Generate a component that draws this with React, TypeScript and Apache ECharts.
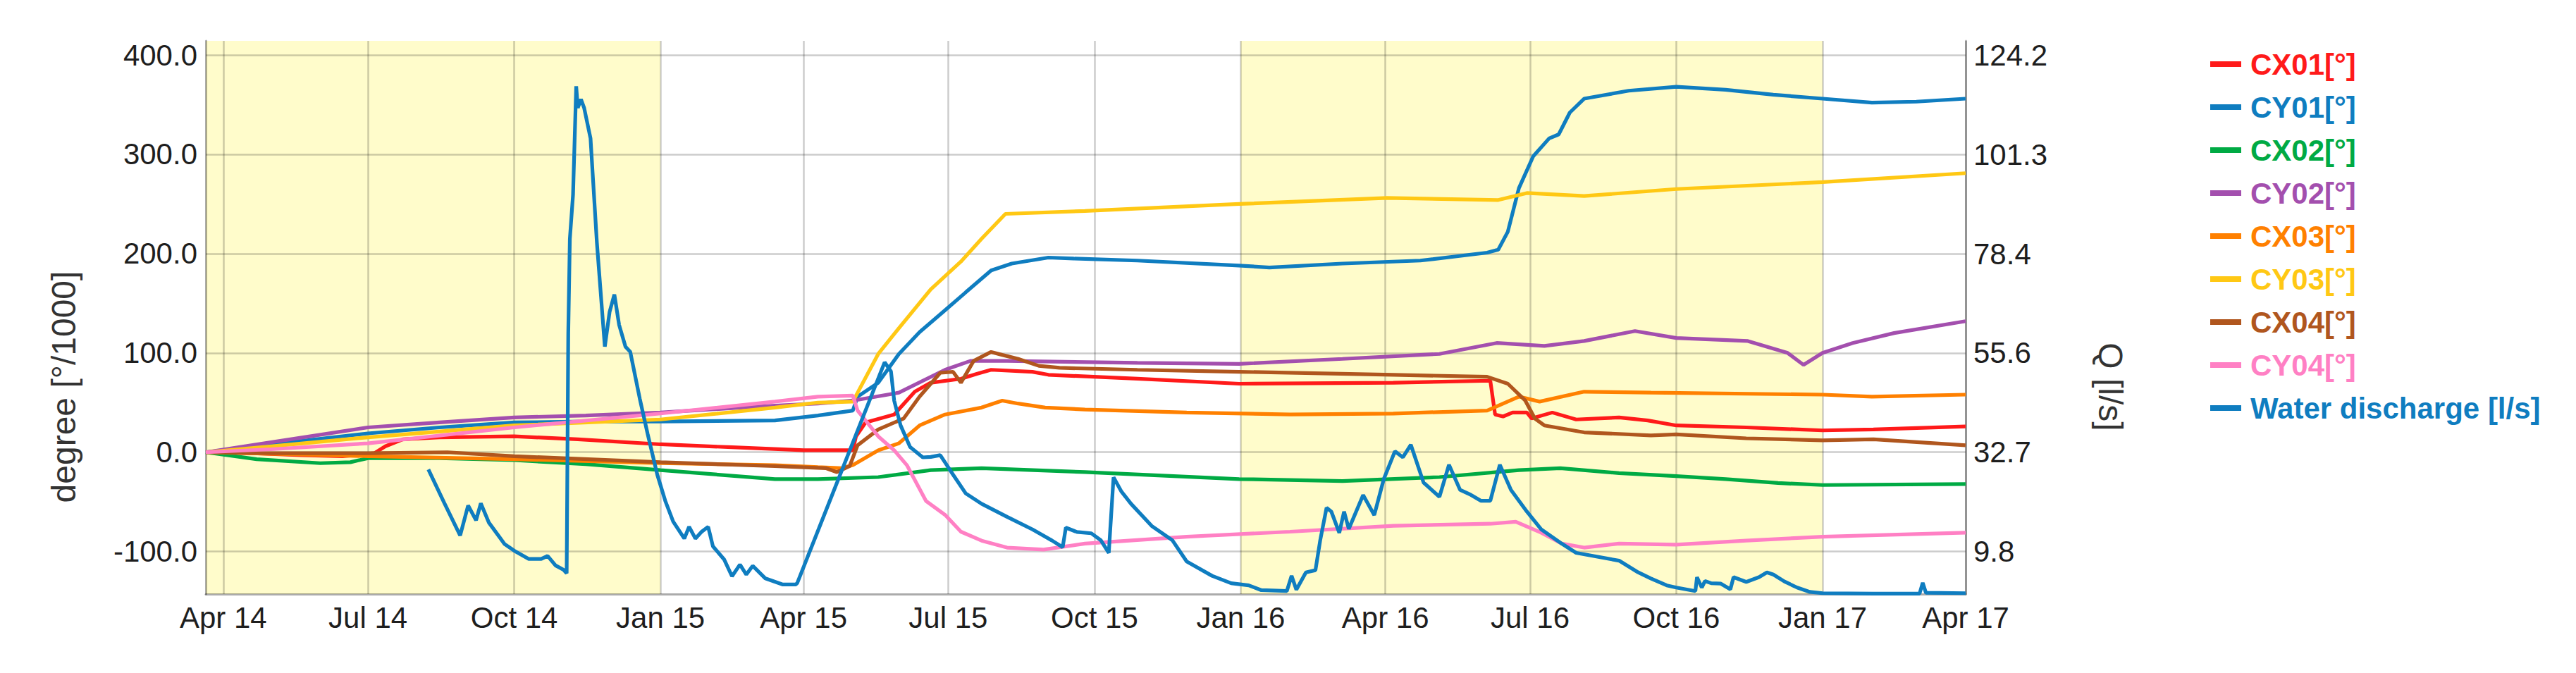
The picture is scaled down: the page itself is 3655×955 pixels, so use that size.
import React, { useEffect, useRef } from 'react';
import * as echarts from 'echarts';

const FONT = '"Liberation Sans", Arial, sans-serif';

const X_MIN = '2014-03-21';
const X_MAX = '2017-04-01';
const X_TICKS = [
  '2014-04-01', '2014-07-01', '2014-10-01', '2015-01-01', '2015-04-01', '2015-07-01', '2015-10-01',
  '2016-01-01', '2016-04-01', '2016-07-01', '2016-10-01', '2017-01-01', '2017-04-01',
];
const MONTHS = ['Jan', 'Feb', 'Mar', 'Apr', 'May', 'Jun', 'Jul', 'Aug', 'Sep', 'Oct', 'Nov', 'Dec'];
const LEFT_TICKS = [-100, 0, 100, 200, 300, 400];
const RIGHT_TICKS = [9.8, 32.7, 55.6, 78.4, 101.3, 124.2];
const BANDS = [
  ['2014-03-21', '2015-01-01'],
  ['2016-01-01', '2017-01-01'],
];

const CX01 = [
  ['2014-03-21', 0], ['2014-04-20', -1], ['2014-05-20', -3], ['2014-06-15', -4], ['2014-07-05', -1],
  ['2014-07-12', 6], ['2014-07-23', 13], ['2014-08-15', 15], ['2014-10-01', 16], ['2014-11-10', 13],
  ['2015-01-01', 8], ['2015-02-15', 5], ['2015-04-01', 2], ['2015-05-02', 2], ['2015-05-04', 16],
  ['2015-05-10', 30], ['2015-05-28', 38], ['2015-06-10', 61], ['2015-06-20', 70], ['2015-07-09', 74],
  ['2015-07-19', 79], ['2015-07-28', 83], ['2015-08-23', 81], ['2015-09-02', 78], ['2015-10-28', 74],
  ['2015-12-31', 69], ['2016-04-06', 70], ['2016-06-06', 72], ['2016-06-09', 38], ['2016-06-14', 36],
  ['2016-06-20', 40], ['2016-06-29', 40], ['2016-07-02', 34], ['2016-07-15', 40], ['2016-07-30', 33],
  ['2016-08-26', 35], ['2016-09-13', 32], ['2016-10-01', 27], ['2016-11-14', 25], ['2017-01-01', 22],
  ['2017-02-02', 23], ['2017-04-01', 26],
];
const CY01 = [
  ['2014-03-21', 0], ['2014-05-01', 8], ['2014-07-01', 19], ['2014-08-15', 25], ['2014-10-01', 30],
  ['2014-11-15', 31], ['2015-01-01', 31], ['2015-03-14', 32], ['2015-04-10', 37], ['2015-05-02', 42],
  ['2015-05-05', 56], ['2015-05-18', 70], ['2015-05-31', 99], ['2015-06-13', 121], ['2015-06-29', 143],
  ['2015-07-12', 161], ['2015-07-28', 183], ['2015-08-10', 190], ['2015-09-02', 196], ['2015-09-18', 195],
  ['2015-10-28', 193], ['2015-12-31', 188], ['2016-01-19', 186], ['2016-03-05', 190], ['2016-04-23', 193],
  ['2016-06-04', 201], ['2016-06-11', 204], ['2016-06-17', 222], ['2016-06-24', 266], ['2016-07-03', 298],
  ['2016-07-13', 316], ['2016-07-19', 320], ['2016-07-26', 342], ['2016-08-04', 356], ['2016-09-01', 364],
  ['2016-10-01', 368], ['2016-11-01', 365], ['2016-12-01', 360], ['2017-01-01', 356], ['2017-02-01', 352],
  ['2017-03-01', 353], ['2017-04-01', 356],
];
const CX02 = [
  ['2014-03-21', 0], ['2014-04-22', -7], ['2014-06-01', -11], ['2014-06-20', -10], ['2014-07-01', -6],
  ['2014-08-15', -6], ['2014-10-01', -8], ['2014-11-15', -12], ['2015-01-01', -18], ['2015-03-14', -27],
  ['2015-04-10', -27], ['2015-05-18', -25], ['2015-06-20', -18], ['2015-07-22', -16], ['2015-09-25', -20],
  ['2015-12-31', -27], ['2016-03-05', -29], ['2016-05-05', -25], ['2016-06-24', -18], ['2016-07-20', -16],
  ['2016-08-26', -21], ['2016-10-01', -24], ['2016-11-01', -27], ['2016-12-04', -31], ['2017-01-01', -33],
  ['2017-04-01', -32],
];
const CY02 = [
  ['2014-03-21', 0], ['2014-05-01', 10], ['2014-07-01', 25], ['2014-08-15', 30], ['2014-10-01', 35],
  ['2014-11-15', 37], ['2015-01-01', 40], ['2015-03-14', 47], ['2015-04-10', 49], ['2015-05-02', 52],
  ['2015-05-31', 60], ['2015-06-29', 83], ['2015-07-15', 92], ['2015-08-07', 92], ['2015-10-28', 90],
  ['2015-12-31', 89], ['2016-03-05', 94], ['2016-05-05', 99], ['2016-06-10', 110], ['2016-07-10', 107],
  ['2016-08-04', 112], ['2016-09-05', 122], ['2016-10-01', 115], ['2016-11-15', 112], ['2016-12-10', 100],
  ['2016-12-20', 88], ['2017-01-01', 100], ['2017-01-20', 110], ['2017-02-15', 120], ['2017-04-01', 132],
];
const CX03 = [
  ['2014-03-21', 0], ['2014-05-15', -2], ['2014-07-01', -4], ['2014-10-01', -7], ['2015-01-01', -11],
  ['2015-03-14', -13], ['2015-04-10', -15], ['2015-04-25', -16], ['2015-05-02', -13], ['2015-05-18', 2],
  ['2015-05-31', 9], ['2015-06-13', 27], ['2015-06-29', 38], ['2015-07-22', 45], ['2015-08-04', 52],
  ['2015-08-14', 49], ['2015-08-31', 45], ['2015-09-25', 43], ['2015-11-28', 40], ['2016-02-01', 38],
  ['2016-04-06', 39], ['2016-06-04', 42], ['2016-06-24', 56], ['2016-07-07', 51], ['2016-08-04', 61],
  ['2016-09-15', 60], ['2017-01-01', 58], ['2017-02-01', 56], ['2017-04-01', 58],
];
const CY03 = [
  ['2014-03-21', 0], ['2014-05-01', 6], ['2014-07-01', 15], ['2014-10-01', 27], ['2015-01-01', 33],
  ['2015-03-14', 45], ['2015-04-10', 50], ['2015-05-02', 51], ['2015-05-18', 99], ['2015-05-31', 125],
  ['2015-06-20', 164], ['2015-07-09', 192], ['2015-07-22', 215], ['2015-08-06', 240], ['2015-09-25', 243],
  ['2015-12-31', 250], ['2016-04-02', 256], ['2016-06-11', 254], ['2016-06-29', 261], ['2016-08-04', 258],
  ['2016-10-01', 265], ['2017-01-01', 272], ['2017-04-01', 281],
];
const CX04 = [
  ['2014-03-21', 0], ['2014-05-01', -1], ['2014-07-01', -1], ['2014-08-20', 0], ['2014-10-01', -4],
  ['2015-01-01', -10], ['2015-03-14', -14], ['2015-04-15', -16], ['2015-04-22', -20], ['2015-04-30', -14],
  ['2015-05-05', 7], ['2015-05-18', 23], ['2015-06-03', 34], ['2015-06-13', 56], ['2015-06-26', 80],
  ['2015-07-04', 81], ['2015-07-09', 70], ['2015-07-17', 92], ['2015-07-28', 101], ['2015-08-04', 98],
  ['2015-08-14', 94], ['2015-08-27', 87], ['2015-09-09', 85], ['2015-10-28', 83], ['2015-12-31', 81],
  ['2016-04-06', 78], ['2016-06-04', 76], ['2016-06-17', 69], ['2016-06-28', 52], ['2016-07-04', 34],
  ['2016-07-10', 27], ['2016-08-04', 20], ['2016-09-15', 17], ['2016-10-01', 18], ['2016-11-14', 14],
  ['2017-01-01', 12], ['2017-02-02', 13], ['2017-04-01', 7],
];
const CY04 = [
  ['2014-03-21', 0], ['2014-05-01', 3], ['2014-07-01', 9], ['2014-10-01', 25], ['2015-01-01', 39],
  ['2015-03-14', 51], ['2015-04-10', 56], ['2015-05-02', 57], ['2015-05-05', 42], ['2015-05-18', 16],
  ['2015-05-28', 2], ['2015-06-05', -13], ['2015-06-17', -49], ['2015-06-29', -63], ['2015-07-09', -80],
  ['2015-07-22', -89], ['2015-08-07', -96], ['2015-08-30', -98], ['2015-09-25', -92], ['2015-11-28', -85],
  ['2016-02-01', -80], ['2016-04-06', -74], ['2016-06-06', -72], ['2016-06-22', -70], ['2016-07-08', -81],
  ['2016-07-21', -92], ['2016-08-04', -96], ['2016-08-26', -92], ['2016-10-01', -93], ['2016-11-14', -89],
  ['2017-01-01', -85], ['2017-04-01', -81],
];
const DISCHARGE = [
  ['2014-08-08', 28.7], ['2014-08-18', 21], ['2014-08-28', 13.5], ['2014-09-02', 20.4], ['2014-09-07', 17],
  ['2014-09-10', 20.9], ['2014-09-15', 16.5], ['2014-09-25', 11.5], ['2014-10-01', 10], ['2014-10-10', 8.1],
  ['2014-10-18', 8.1], ['2014-10-22', 8.8], ['2014-10-27', 6.6], ['2014-11-01', 5.6], ['2014-11-03', 4.8],
  ['2014-11-04', 60], ['2014-11-05', 81.8], ['2014-11-07', 92], ['2014-11-09', 117], ['2014-11-10', 112],
  ['2014-11-12', 114], ['2014-11-14', 112], ['2014-11-18', 105], ['2014-11-22', 81], ['2014-11-27', 57],
  ['2014-11-30', 65], ['2014-12-03', 69], ['2014-12-06', 62], ['2014-12-10', 57], ['2014-12-13', 55.8],
  ['2014-12-19', 45], ['2014-12-24', 36.8], ['2014-12-30', 27.5], ['2015-01-04', 21.5], ['2015-01-09', 16.7],
  ['2015-01-16', 12.8], ['2015-01-19', 15.5], ['2015-01-23', 12.8], ['2015-01-27', 14.4], ['2015-01-31', 15.5],
  ['2015-02-03', 11], ['2015-02-10', 8], ['2015-02-15', 4.1], ['2015-02-20', 6.8], ['2015-02-24', 4.5],
  ['2015-02-28', 6.5], ['2015-03-08', 3.6], ['2015-03-19', 2.2], ['2015-03-27', 2.2], ['2015-03-28', 2.5],
  ['2015-05-22', 53.4], ['2015-05-26', 51.3], ['2015-05-28', 44.6], ['2015-06-01', 38.9], ['2015-06-07', 33.9],
  ['2015-06-15', 31.5], ['2015-06-20', 31.6], ['2015-06-26', 32], ['2015-07-03', 28.1], ['2015-07-12', 23.2],
  ['2015-07-22', 20.8], ['2015-08-07', 17.8], ['2015-08-23', 14.9], ['2015-09-04', 12.4], ['2015-09-11', 10.8],
  ['2015-09-13', 15.3], ['2015-09-20', 14.3], ['2015-09-29', 14], ['2015-10-05', 12.4], ['2015-10-10', 9.5],
  ['2015-10-13', 26.9], ['2015-10-18', 23.6], ['2015-10-24', 20.8], ['2015-11-06', 15.7], ['2015-11-19', 12.4],
  ['2015-11-28', 7.5], ['2015-12-14', 4.2], ['2015-12-26', 2.5], ['2016-01-06', 2], ['2016-01-14', 0.9],
  ['2016-01-30', 0.7], ['2016-02-02', 4.2], ['2016-02-05', 1], ['2016-02-11', 5], ['2016-02-17', 5.5],
  ['2016-02-20', 12.4], ['2016-02-24', 19.9], ['2016-02-27', 19], ['2016-03-03', 14.1], ['2016-03-06', 19],
  ['2016-03-09', 15], ['2016-03-18', 22.8], ['2016-03-25', 18.2], ['2016-03-31', 26.5], ['2016-04-07', 32.9],
  ['2016-04-12', 31.5], ['2016-04-17', 34.4], ['2016-04-25', 25.7], ['2016-05-05', 22.4], ['2016-05-11', 29.8],
  ['2016-05-18', 24], ['2016-05-24', 23], ['2016-05-31', 21.5], ['2016-06-06', 21.5], ['2016-06-12', 29.8],
  ['2016-06-19', 24], ['2016-06-29', 19], ['2016-07-08', 14.9], ['2016-07-21', 11.6], ['2016-07-30', 9.5],
  ['2016-08-26', 7.7], ['2016-09-07', 5], ['2016-09-15', 3.6], ['2016-09-25', 2], ['2016-10-01', 1.5],
  ['2016-10-13', 0.7], ['2016-10-14', 3.9], ['2016-10-17', 1.5], ['2016-10-19', 3], ['2016-10-23', 2.5],
  ['2016-10-29', 2.4], ['2016-11-04', 1.1], ['2016-11-06', 3.9], ['2016-11-14', 2.8], ['2016-11-22', 3.9],
  ['2016-11-27', 5], ['2016-12-01', 4.5], ['2016-12-08', 2.9], ['2016-12-16', 1.5], ['2016-12-24', 0.5],
  ['2017-01-01', 0.2], ['2017-02-02', 0.1], ['2017-03-03', 0.1], ['2017-03-05', 2.6], ['2017-03-07', 0.3],
  ['2017-04-01', 0.2],
];

const SERIES_NAMES = ['CX01[°]', 'CY01[°]', 'CX02[°]', 'CY02[°]', 'CX03[°]', 'CY03[°]', 'CX04[°]', 'CY04[°]', 'Water discharge [l/s]'];
const SERIES_COLORS = ['#FF1A1A', '#0F7DC0', '#00AA44', '#A34FAE', '#FF8000', '#FFC814', '#B0561E', '#FF80C4', '#0F7DC0'];
const SERIES_DATA = [CX01, CY01, CX02, CY02, CX03, CY03, CX04, CY04, DISCHARGE];
const SERIES_AXIS = [0, 0, 0, 0, 0, 0, 0, 0, 1];

const ts = (s: string) => {
  const [y, m, d] = s.split('-').map(Number);
  return Date.UTC(y, m - 1, d);
};
const fmtDate = (v: number) => {
  const d = new Date(v);
  return MONTHS[d.getUTCMonth()] + ' ' + String(d.getUTCFullYear() % 100).padStart(2, '0');
};

export default function App() {
  const ref = useRef<HTMLDivElement>(null);
  useEffect(() => {
    if (!ref.current) return;
    const chart = echarts.init(ref.current, null, { renderer: 'svg' });
    const gridLine = { color: 'rgba(0,0,0,0.2)', width: 2.5 };
    const axisLineStyle = { color: 'rgba(0,0,0,0.33)', width: 3 };
    const labelBase = { fontSize: 42, color: '#1e1e1e', fontFamily: FONT };
    const xTicks = X_TICKS.map(ts);
    const option: any = {
      animation: false,
      backgroundColor: '#ffffff',
      textStyle: { fontFamily: FONT },
      grid: { left: 292, right: 866, top: 58, bottom: 112, containLabel: false },
      xAxis: {
        type: 'value',
        min: ts(X_MIN),
        max: ts(X_MAX),
        z: 1,
        axisLine: { show: true, onZero: false, lineStyle: axisLineStyle },
        axisTick: { show: false, customValues: xTicks },
        axisLabel: {
          ...labelBase,
          customValues: xTicks,
          formatter: (v: number) => fmtDate(v),
          margin: 12,
          hideOverlap: false,
        },
        splitLine: { show: true, lineStyle: gridLine },
      },
      yAxis: [
        {
          type: 'value',
          min: -142.8,
          max: 414.2,
          position: 'left',
          z: 1,
          axisLine: { show: true, onZero: false, lineStyle: axisLineStyle },
          axisTick: { show: false, customValues: LEFT_TICKS },
          axisLabel: { ...labelBase, customValues: LEFT_TICKS, formatter: (v: number) => v.toFixed(1), margin: 12 },
          splitLine: { show: true, lineStyle: gridLine },
        },
        {
          type: 'value',
          min: 0,
          max: 127.45,
          position: 'right',
          z: 1,
          axisLine: { show: true, onZero: false, lineStyle: { color: 'rgba(0,0,0,0.3)', width: 3 } },
          axisTick: { show: false, customValues: RIGHT_TICKS },
          axisLabel: { ...labelBase, customValues: RIGHT_TICKS, formatter: (v: number) => v.toFixed(1), margin: 11 },
          splitLine: { show: false },
        },
      ],
      legend: {
        orient: 'vertical',
        left: 3131,
        top: 65,
        itemWidth: 44,
        itemHeight: 8,
        itemGap: 19,
        icon: 'rect',
        selectedMode: false,
        textStyle: { fontSize: 42, fontWeight: 'bold', fontFamily: FONT, padding: [0, 0, 0, 8] },
        data: SERIES_NAMES.map((n, i) => ({ name: n, textStyle: { color: SERIES_COLORS[i] } })),
      },
      graphic: [
        {
          type: 'text',
          x: 90,
          y: 549,
          rotation: Math.PI / 2,
          style: {
            text: 'degree [°/1000]',
            fontSize: 48,
            fontFamily: FONT,
            fill: '#333',
            align: 'center',
            verticalAlign: 'middle',
            textAlign: 'center',
            textVerticalAlign: 'middle',
          },
        },
        {
          type: 'text',
          x: 2994,
          y: 549,
          rotation: -Math.PI / 2,
          style: {
            text: 'Q [l/s]',
            fontSize: 48,
            fontFamily: FONT,
            fill: '#333',
            align: 'center',
            verticalAlign: 'middle',
            textAlign: 'center',
            textVerticalAlign: 'middle',
          },
        },
      ],
      series: SERIES_NAMES.map((name, i) => ({
        name,
        type: 'line',
        yAxisIndex: SERIES_AXIS[i],
        data: SERIES_DATA[i].map(([d, v]) => [ts(d as string), v]),
        showSymbol: false,
        symbol: 'none',
        color: SERIES_COLORS[i],
        lineStyle: { color: SERIES_COLORS[i], width: 5.2 },
        z: i === 8 ? 3 : 2,
        ...(i === 0
          ? {
              markArea: {
                silent: true,
                z: -1,
                itemStyle: { color: '#FFFCCB' },
                data: BANDS.map(([a, b]) => [{ xAxis: ts(a) }, { xAxis: ts(b) }]),
              },
            }
          : {}),
      })),
    };
    chart.setOption(option);
    return () => chart.dispose();
  }, []);
  return (
    <div
      ref={ref}
      style={{ position: 'absolute', left: 0, top: 0, width: '3655px', height: '955px' }}
    />
  );
}
